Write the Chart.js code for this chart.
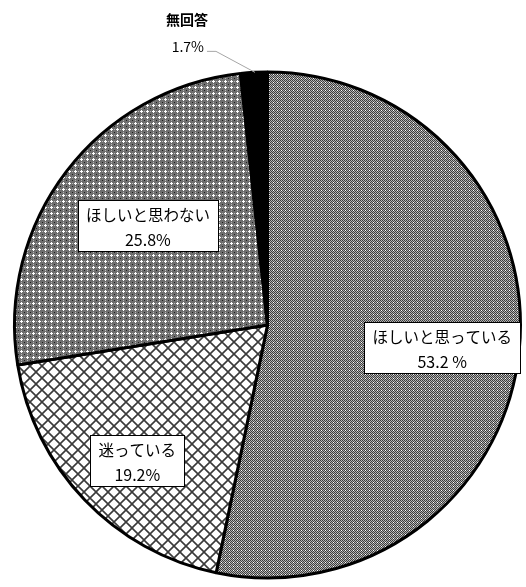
<!DOCTYPE html>
<html>
<head>
<meta charset="utf-8">
<script src="https://cdn.jsdelivr.net/npm/chart.js@4/dist/chart.umd.min.js"></script>
<style>
html,body{margin:0;padding:0;background:#fff;}
#wrap{width:526px;height:587px;position:relative;}
</style>
</head>
<body>
<div id="wrap"><canvas id="c" width="526" height="587"></canvas></div>
<script>
const categories = ["ほしいと思っている", "迷っている", "ほしいと思わない", "無回答"];
const values = [53.2, 19.2, 25.8, 1.7];
const valueLabels = ["53.2 %", "19.2%", "25.8%", "1.7%"];

function makePattern(size, draw) {
  const cv = document.createElement('canvas');
  cv.width = size; cv.height = size;
  const g = cv.getContext('2d');
  draw(g, size);
  return document.getElementById('c').getContext('2d').createPattern(cv, 'repeat');
}
// fine checker (dark grey)
const patFine = makePattern(4, (g) => {
  g.fillStyle = '#b4b4b4'; g.fillRect(0,0,4,4);
  g.fillStyle = '#3c3c3c';
  for (let y=0;y<4;y++) for (let x=0;x<4;x++) if ((x+y)%2===0) g.fillRect(x,y,1,1);
  g.fillStyle = '#ffffff'; g.fillRect(1,2,1,1);
});
// diamond lattice
const patDiamond = makePattern(12, (g, s) => {
  g.fillStyle = '#ffffff'; g.fillRect(0,0,s,s);
  g.strokeStyle = '#3a3a3a'; g.lineWidth = 1.6;
  g.beginPath();
  g.moveTo(-1,-1); g.lineTo(s+1,s+1);
  g.moveTo(s+1,-1); g.lineTo(-1,s+1);
  g.stroke();
});
// medium dotted checker
const patDots = makePattern(6, (g, s) => {
  g.fillStyle = '#6e6e6e'; g.fillRect(0,0,s,s);
  g.fillStyle = '#ffffff';
  g.fillRect(2,3,3,1); g.fillRect(3,2,1,3);
  g.fillStyle = '#1e1e1e';
  g.fillRect(0,0,1,1);
  g.fillStyle = '#b8b8b8';
  g.fillRect(3,0,1,1); g.fillRect(0,3,1,1);
});
const fills = [patFine, patDiamond, patDots, '#000000'];

// label placement: radial fraction of radius + small nudge
const labelFrac = [0.69, 0.75, 0.61];
const labelNudge = [[1, 5], [7, 4], [3, -6]];

const labelPlugin = {
  id: 'boxLabels',
  afterDatasetsDraw(chart) {
    const ctx = chart.ctx;
    const arcs = chart.getDatasetMeta(0).data;
    ctx.save();
    for (let i = 0; i < 3; i++) {
      const a = arcs[i];
      const mid = (a.startAngle + a.endAngle) / 2;
      const cx = a.x + Math.cos(mid) * a.outerRadius * labelFrac[i] + labelNudge[i][0];
      const cy = a.y + Math.sin(mid) * a.outerRadius * labelFrac[i] + labelNudge[i][1];
      ctx.font = '15.5px "Noto Sans CJK JP"';
      const w1 = ctx.measureText(categories[i]).width;
      const bw = Math.round(w1 + 16), bh = 51;
      const bx = Math.round(cx - bw / 2) + 0.5, by = Math.round(cy - bh / 2) + 0.5;
      ctx.fillStyle = '#fff';
      ctx.fillRect(bx, by, bw, bh);
      ctx.strokeStyle = '#000'; ctx.lineWidth = 1;
      ctx.strokeRect(bx, by, bw, bh);
      ctx.fillStyle = '#000';
      ctx.textAlign = 'center'; ctx.textBaseline = 'middle';
      ctx.fillText(categories[i], cx, by + 15);
      ctx.font = '16px "Noto Sans CJK JP"';
      ctx.fillText(valueLabels[i], cx, by + 39);
    }
    // outside label for the small slice
    const a = arcs[3];
    const mid = (a.startAngle + a.endAngle) / 2;
    const px = a.x + Math.cos(mid) * a.outerRadius;
    const py = a.y + Math.sin(mid) * a.outerRadius;
    const ex = px - 38, ey = py - 21;
    ctx.strokeStyle = '#a6a6a6'; ctx.lineWidth = 1;
    ctx.beginPath();
    ctx.moveTo(px + 1, py);
    ctx.lineTo(ex, ey);
    ctx.lineTo(ex - 9, ey);
    ctx.stroke();
    ctx.fillStyle = '#000';
    ctx.textAlign = 'center'; ctx.textBaseline = 'middle';
    ctx.font = 'bold 14px "Noto Sans CJK JP"';
    ctx.fillText(categories[3], ex - 29, ey - 32);
    ctx.font = '14px "Noto Sans CJK JP"';
    ctx.textAlign = 'right';
    ctx.fillText(valueLabels[3], ex - 12, ey - 5);
    ctx.restore();
  }
};

new Chart(document.getElementById('c'), {
  type: 'pie',
  data: {
    labels: categories,
    datasets: [{
      data: values,
      backgroundColor: fills,
      borderColor: '#000',
      borderWidth: 3,
      hoverBorderWidth: 3
    }]
  },
  options: {
    responsive: false,
    animation: false,
    radius: 253,
    layout: { padding: { left: 12, right: 3, top: 70, bottom: 7 } },
    plugins: { legend: { display: false }, tooltip: { enabled: false } }
  },
  plugins: [labelPlugin]
});
</script>
</body>
</html>
